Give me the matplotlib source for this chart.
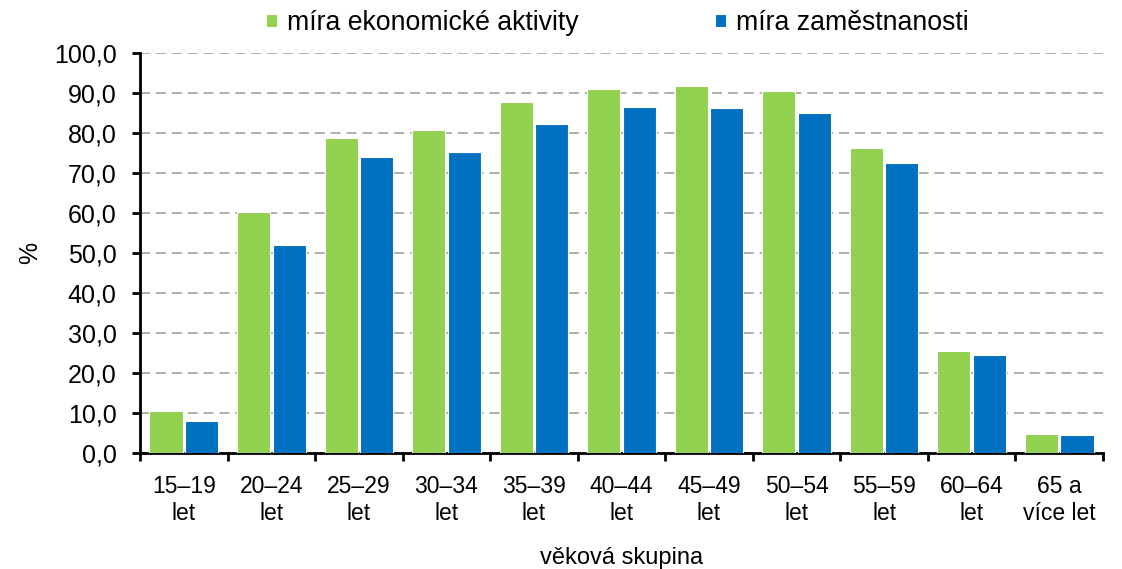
import numpy as np
import matplotlib.pyplot as plt
from matplotlib.ticker import FixedLocator, NullFormatter, FuncFormatter

plt.rcParams['font.family'] = ['Liberation Sans', 'DejaVu Sans']

categories = ['15–19\nlet', '20–24\nlet', '25–29\nlet', '30–34\nlet', '35–39\nlet',
              '40–44\nlet', '45–49\nlet', '50–54\nlet', '55–59\nlet', '60–64\nlet',
              '65 a\nvíce let']
aktivita = [10.4, 60.3, 78.8, 80.7, 87.8, 91.0, 91.8, 90.5, 76.2, 25.5, 4.7]
zamestnanost = [8.0, 52.1, 74.0, 75.3, 82.3, 86.5, 86.2, 85.0, 72.6, 24.4, 4.5]

green = '#92D050'
blue = '#0070C0'

fig = plt.figure(figsize=(11.22, 5.69), dpi=100)
ax = fig.add_axes([140 / 1122, 1 - 453 / 569, 963 / 1122, 400 / 569])

x = np.arange(len(categories))
w = 0.377
off = 0.203
ax.bar(x - off, aktivita, w, color=green, edgecolor='white', linewidth=0.8,
       label='míra ekonomické aktivity', zorder=3)
ax.bar(x + off, zamestnanost, w, color=blue, edgecolor='white', linewidth=0.8,
       label='míra zaměstnanosti', zorder=3)

ax.set_xlim(-0.5, len(categories) - 0.5)
ax.set_ylim(0, 100)
ax.set_yticks(np.arange(0, 101, 10))
ax.yaxis.set_major_formatter(FuncFormatter(lambda v, p: f'{v:.1f}'.replace('.', ',')))
ax.yaxis.grid(True, color='#A8A8A8', linestyle=(0, (5.5, 3.3)), linewidth=1.3, zorder=0)

ax.xaxis.set_major_locator(FixedLocator(np.arange(-0.5, len(categories), 1)))
ax.xaxis.set_major_formatter(NullFormatter())
ax.xaxis.set_minor_locator(FixedLocator(x))
ax.set_xticklabels(categories, minor=True, linespacing=1.2)
ax.tick_params(axis='x', which='minor', length=0, labelsize=16.5, pad=16)
ax.tick_params(axis='x', which='major', length=6, width=2, direction='out')
ax.tick_params(axis='y', length=6, width=2, labelsize=18, pad=11)

for s in ['top', 'right']:
    ax.spines[s].set_visible(False)
for s in ['left', 'bottom']:
    ax.spines[s].set_linewidth(2)

ax.set_ylabel('%', fontsize=18, labelpad=8)
ax.set_xlabel('věková skupina', fontsize=17, labelpad=16)

fig.legend(loc='upper left', bbox_to_anchor=(266 / 1122, 0.982), ncol=2, frameon=False,
           fontsize=19.2, handlelength=0.4, handleheight=0.4, handletextpad=0.38,
           columnspacing=5.12, borderpad=0, borderaxespad=0)

fig.savefig('out.png', dpi=100)
